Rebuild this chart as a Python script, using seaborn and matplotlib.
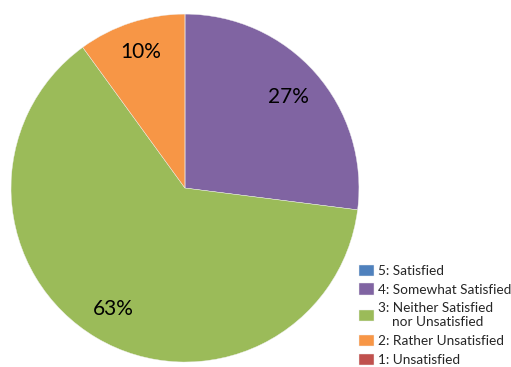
import matplotlib
matplotlib.use("Agg")
import matplotlib.pyplot as plt
import seaborn as sns
import numpy as np

categories = ["5: Satisfied", "4: Somewhat Satisfied",
              "3: Neither Satisfied\n    nor Unsatisfied",
              "2: Rather Unsatisfied", "1: Unsatisfied"]
values = [0, 27, 63, 10, 0]
pct_labels = ["", "27%", "63%", "10%", ""]
colors = ["#4F81BD", "#8064A2", "#9BBB59", "#F79646", "#C0504D"]

sns.set_theme(style="white")
plt.rcParams["font.family"] = ["Lato", "DejaVu Sans"]

fig = plt.figure(figsize=(5.11, 3.67), dpi=100)
fig.patch.set_facecolor("white")
ax = fig.add_axes([0.0215, 0.0136, 0.681, 0.948])

wedges, _ = ax.pie(values, colors=colors, startangle=90, counterclock=False,
                   radius=1.0, wedgeprops=dict(linewidth=0.3, edgecolor="#f0f0f0"))
ax.set_xlim(-1, 1)
ax.set_ylim(-1, 1)
ax.set_aspect("equal")
ax.axis("off")

label_r = [0, 0.79, 0.81, 0.82, 0]
for w, lab, r in zip(wedges, pct_labels, label_r):
    if not lab:
        continue
    ang = np.deg2rad((w.theta1 + w.theta2) / 2)
    ax.text(r * np.cos(ang), r * np.sin(ang), lab, ha="center", va="center",
            fontsize=15, color="black")

leg = fig.legend(wedges, categories, loc="upper left",
                 bbox_to_anchor=(0.683, 0.305), frameon=False,
                 fontsize=9.8, handlelength=1.1, handleheight=0.9,
                 handletextpad=0.3, labelspacing=0.48, borderpad=0.2)

fig.savefig("out.png", dpi=100, facecolor="white")
